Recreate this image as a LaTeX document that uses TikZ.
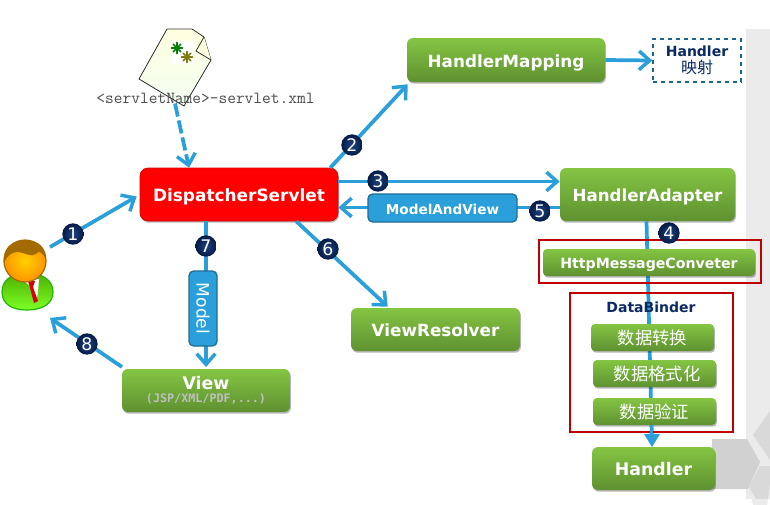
\documentclass[tikz,border=0pt]{standalone}
\usepackage{fontspec}
\setmainfont{DejaVu Sans}
\newfontfamily\cjk{Noto Sans CJK SC}
\newfontfamily\lmono{Latin Modern Mono}
\newfontfamily\dvmono{DejaVu Sans Mono}
\usetikzlibrary{arrows.meta,shadows,shapes.geometric}
\definecolor{arrowblue}{HTML}{2A9FD9}
\definecolor{navy}{HTML}{0B2A63}
\definecolor{dotin}{HTML}{1E4583}
\definecolor{dotout}{HTML}{051A45}
\definecolor{redframe}{HTML}{C00000}
\definecolor{greentop}{HTML}{84C543}
\definecolor{greenbot}{HTML}{5E9130}
\definecolor{hairbrown}{HTML}{A26A00}
\definecolor{bodyrim}{HTML}{1FB800}
\tikzset{
  x=0.75pt,y=-0.75pt,
  softshadow/.style={drop shadow={shadow xshift=0.7pt,shadow yshift=-1.3pt,opacity=.28,fill=black}},
  greenbox/.style={rectangle,rounded corners=4.5pt,top color=greentop,bottom color=greenbot,
    draw=none,softshadow,text=white,font=\bfseries,align=center,inner sep=0pt},
  bluebox/.style={rectangle,rounded corners=3.5pt,fill=arrowblue,draw=arrowblue!70!black,line width=1pt,
    text=white,align=center,inner sep=0pt},
  bigtext/.style={font=\bfseries\fontsize{#1}{14pt}\selectfont,text height=12.5pt,text depth=2pt},
  smalltext/.style={font=\bfseries\fontsize{#1}{12pt}\selectfont,text height=10.5pt,text depth=1.5pt},
  flow/.style={draw=arrowblue,line width=2.8pt,-{Straight Barb[length=8pt,width=14pt,line width=2.6pt]}},
  plainflow/.style={draw=arrowblue,line width=2.8pt},
  numdot/.style={circle,minimum size=16pt,inner sep=0pt,inner color=dotin,outer color=dotout,
    text=white,font=\fontsize{13pt}{13pt}\selectfont},
  redframebox/.style={rectangle,draw=redframe,line width=1.1pt,fill=none,inner sep=0pt},
  box/.style n args={4}{minimum width=#3*0.75pt-#1*0.75pt,minimum height=#4*0.75pt-#2*0.75pt},
  starline/.style={line width=1.1pt,line cap=round},
}
\begin{document}
\begin{tikzpicture}
\useasboundingbox (0,0) rectangle (770,504);
% background
\fill[white] (0,0) rectangle (770,504);
\fill[black!8] (746,29) rectangle (770,499);
\fill[black!18] (712,439) -- (747,439) -- (760,462) -- (748,489) -- (712,489) -- cycle;
\fill[black!15] (770,411) -- (753,435) -- (770,460) -- cycle;
\fill[black!15] (770,466) -- (760,466) -- (749,487) -- (756,499) -- (770,499) -- cycle;
\fill[white!92!black] (752,499) arc[start angle=180,end angle=90,radius=14] -- (770,485) -- (770,499) -- cycle;

% document icon
\begin{scope}
\filldraw[draw=black!80,line width=.6pt,top color=yellow!12,bottom color=green!5]
  (167,29) -- (192,29) -- (204,37) -- (211,60) -- (184,106) -- (139,79) -- cycle;
\draw[black!80,line width=.6pt,fill=yellow!12] (204,37) -- (196,51) -- (211,60);
\fill[white] (171,41) rectangle (194,64);
\foreach \a in {0,45,90,135} {
  \draw[starline,green!50!black] (177,48) ++(\a:5.5) -- ++(\a+180:11);
  \draw[starline,olive!90!black] (187,57) ++(\a:5.5) -- ++(\a+180:11);
}
\end{scope}
\node[font=\lmono\fontsize{12.7pt}{14pt}\selectfont,text=black!70,inner sep=0pt] (cfg) at (205.5,98) {<servletName>-servlet.xml};

% boxes under the connectors
\node[box={140}{168}{338}{221},rectangle,rounded corners=6pt,fill=red,draw=red!85!black,line width=.5pt,softshadow,
  text=white,bigtext=12.7pt,inner sep=0pt] (ds) at (239,194.5) {DispatcherServlet};
\node[box={407}{38}{605}{82},greenbox,bigtext=12.6pt] (hm) at (506,60) {HandlerMapping};
\node[box={653}{39}{741}{82},rectangle,draw=arrowblue!65!black,dashed,line width=1pt,align=center,inner sep=0pt,
  text=navy,font=\bfseries\fontsize{10.5pt}{12pt}\selectfont] (hmap) at (697,60.5) {Handler\\[1pt]{\cjk\mdseries\fontsize{12pt}{12pt}\selectfont 映射}};
\node[box={560}{168}{735}{221},greenbox,bigtext=12.5pt] (ha) at (647.5,194.5) {HandlerAdapter};
\node[box={592}{447}{715}{490},greenbox,bigtext=13pt] (handler) at (653.5,468.5) {Handler};
\node[box={351}{308}{520}{351},greenbox,bigtext=12.6pt] (vr) at (435.5,329.5) {ViewResolver};

\coordinate (user1) at (50,247);
\coordinate (user8) at (50,318);
\draw[flow] (user1) -- ([shift={(-3,2)}]ds.west);
\draw[flow] ([shift={(-8,0)}]ds.north east) -- ([shift={(1,2)}]hm.south west);
\draw[flow] (hm.east) -- (hmap.west);
\draw[flow] ([shift={(0,-13)}]ds.east) -- ([shift={(0,-13)}]ha.west);
\draw[flow] ([shift={(0,13)}]ha.west) -- ([shift={(0,13)}]ds.east);
\draw[flow] ([shift={(-42,0)}]ds.south east) -- ([shift={(37,-1)}]vr.north west);
\draw[plainflow] ([shift={(-1,0)}]ha.south) -- ([shift={(-1.5,-3)}]handler.north);
\draw[flow] (ds.south -| 206,0) -- (206,367);
\draw[flow] (122,367) -- (user8);
\draw[flow,dash pattern=on 10pt off 3pt] (cfg.south -| 175,0) -- ([shift={(-50,0)}]ds.north);

% small boxes
\node[box={368}{194}{517}{222},bluebox,smalltext=10.2pt] (mav) at (442.5,208) {ModelAndView};
\node[bluebox,rotate=-90,minimum width=75*0.75pt,minimum height=28*0.75pt,font=\fontsize{12.8pt}{13pt}\selectfont] (model) at (203,308.5) {Model};
\node[box={122}{369}{290}{412},greenbox] (view) at (206,390.5) {{\fontsize{13pt}{13pt}\selectfont View}\\[-2.5pt]{\color{white!75!black}\dvmono\bfseries\fontsize{8.8pt}{9pt}\selectfont (JSP/XML/PDF,...)}};
\node[box={543}{249}{755}{276},greenbox,rounded corners=3pt,smalltext=10.6pt] (hmc) at (649,262.5) {HttpMessageConveter};
\node[box={539}{240}{761}{283},redframebox] (frameA) at (650,261.5) {};
\node[box={570}{293}{733}{432},redframebox] (frameB) at (651.5,362.5) {};
\node[text=navy,font=\bfseries\fontsize{10.5pt}{12pt}\selectfont,inner sep=0pt] (binder) at (651,307.5) {DataBinder};
\node[box={591}{324}{714}{351},greenbox,rounded corners=3pt,font=\cjk\fontsize{13pt}{14pt}\selectfont] (c1) at (652.5,337.5) {数据转换};
\node[box={593}{360}{716}{387},greenbox,rounded corners=3pt,font=\cjk\fontsize{13pt}{14pt}\selectfont] (c2) at (654.5,373.5) {\hspace*{4pt}数据格式化};
\node[box={593}{398}{716}{425},greenbox,rounded corners=3pt,font=\cjk\fontsize{13pt}{14pt}\selectfont] (c3) at (654.5,411.5) {数据验证};
\fill[arrowblue] (644,434) -- (660,434) -- (652,447) -- cycle;
\draw[plainflow] (651.5,425) -- (651.5,434);

% number dots
\node[numdot] (n1) at (73,234) {1};
\node[numdot] (n2) at (352,145) {2};
\node[numdot] (n3) at (378,181) {3};
\node[numdot] (n4) at (669,233) {4};
\node[numdot] (n5) at (540,211) {5};
\node[numdot] (n6) at (328,249) {6};
\node[numdot] (n7) at (206,246) {7};
\node[numdot] (n8) at (87,344) {8};

% person
\begin{scope}
\filldraw[draw=bodyrim,line width=.9pt,top color=green!55!black!70!yellow,bottom color=green!60!yellow!85!white]
  (2,292) .. controls (2,280) and (12,273) .. (27,273) .. controls (42,273) and (53,280) .. (53,292)
  .. controls (53,304) and (42,310) .. (27,310) .. controls (12,310) and (2,304) .. (2,292) -- cycle;
\fill[white] (21,279) -- (39,279) -- (38,292) -- (36,302) -- (29,285) -- cycle;
\fill[red!85!black] (28,281) -- (35,281) -- (33,287) -- (38,301) -- (34,303) -- (30,288) -- cycle;
\filldraw[draw=hairbrown,line width=.9pt,inner color=yellow!65!orange,outer color=orange!85!yellow] (25,261) ellipse (21 and 21);
\fill[hairbrown] (4,263) .. controls (2,248) and (12,240) .. (26,240) .. controls (38,240) and (47,248) .. (46,260)
  .. controls (43,252) and (38,250) .. (36,254) .. controls (31,258) and (24,252) .. (18,252) .. controls (11,252) and (7,256) .. (4,263) -- cycle;
\end{scope}
\end{tikzpicture}
\end{document}
